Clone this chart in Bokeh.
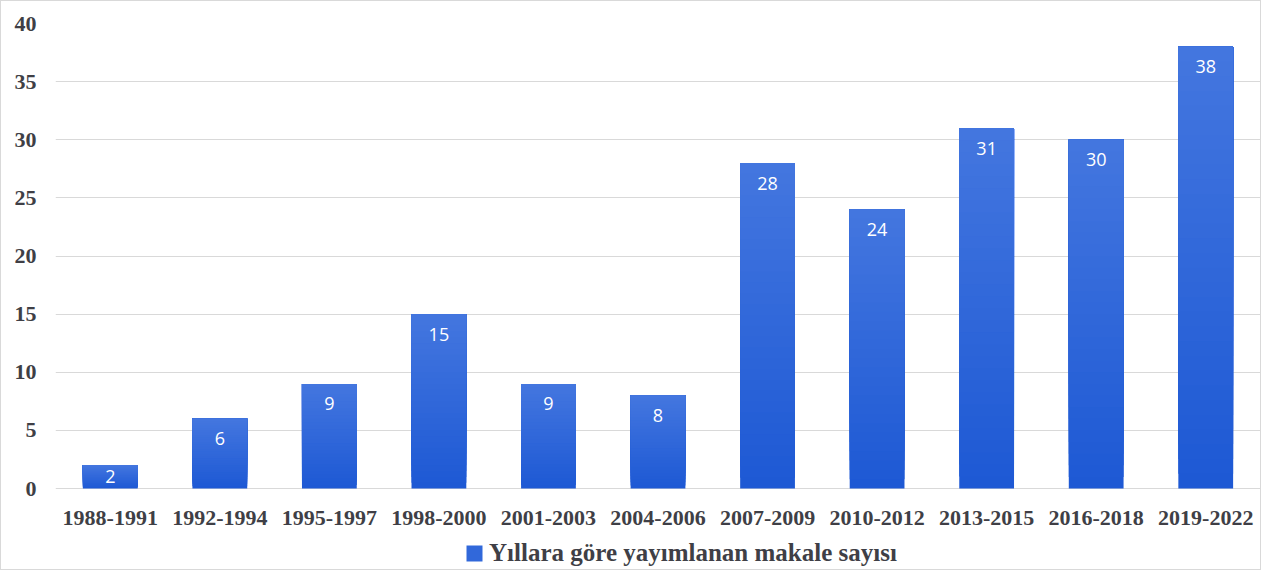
from bokeh.plotting import figure
from bokeh.models import ColumnDataSource, Legend, LegendItem, Range1d, FactorRange, FixedTicker
from bokeh.core.properties import value
from bokeh.embed import file_html
from bokeh.resources import INLINE

periods = ["1988-1991", "1992-1994", "1995-1997", "1998-2000", "2001-2003", "2004-2006",
           "2007-2009", "2010-2012", "2013-2015", "2016-2018", "2019-2022"]
counts = [2, 6, 9, 15, 9, 8, 28, 24, 31, 30, 38]
y_ticks = [0, 5, 10, 15, 20, 25, 30, 35, 40]
series_name = "Yıllara göre yayımlanan makale sayısı"

TEXT = "#3f3f46"
SERIF = "Liberation Serif"

# layout (pixels inside the figure)
W, H = 1261, 570
LEFT_PX, RIGHT_PX = 54, 1259
TOP_PX, ZERO_PX, BOTTOM_PX = 22, 487, 568
px_per_unit = (ZERO_PX - TOP_PX) / max(y_ticks)
y_start = -(BOTTOM_PX - ZERO_PX) / px_per_unit

p = figure(x_range=FactorRange(*periods), y_range=Range1d(y_start, max(y_ticks)),
           width=W, height=H, output_backend="svg", toolbar_location=None,
           min_border_left=LEFT_PX, min_border_right=W - RIGHT_PX, min_border_top=TOP_PX,
           min_border_bottom=H - BOTTOM_PX,
           background_fill_color="white", border_fill_color="white",
           styles={"border": "1px solid #d9d9d9", "box-sizing": "border-box"})
p.outline_line_color = None

# gradient bars: overlapping slices from bottom (dark) to top (light)
bottom_rgb = (0x1d, 0x59, 0xd4)
top_rgb = (0x44, 0x76, 0xdf)
N = 30
rends = []
for k in range(N):
    t = (k + 0.5) / N
    c = tuple(int(round(b + (tp - b) * t)) for b, tp in zip(bottom_rgb, top_rgb))
    col = "#%02x%02x%02x" % c
    src = ColumnDataSource(dict(x=periods, top=counts,
                                bottom=[v * k / N for v in counts]))
    rends.append(p.vbar(x="x", top="top", bottom="bottom", width=0.5, source=src,
                        fill_color=col, line_color=None))

# value labels inside the bar end (kept inside short bars)
label_off = [min(20.0, v * px_per_unit / 2) for v in counts]
lab_src = ColumnDataSource(dict(x=periods, y=counts, t=[str(v) for v in counts],
                                off=label_off))
p.text(x="x", y="y", text="t", source=lab_src, text_align="center", text_baseline="middle",
       y_offset="off", text_color="white", text_font=value("Open Sans"),
       text_font_size="18px")

p.xgrid.grid_line_color = None
p.ygrid.grid_line_color = "#d9d9d9"
p.ygrid.grid_line_width = 1
p.yaxis.ticker = FixedTicker(ticks=y_ticks)

for ax in (p.xaxis[0], p.yaxis[0]):
    ax.axis_line_color = None
    ax.major_tick_line_color = None
    ax.minor_tick_line_color = None
    ax.major_label_text_font = SERIF
    ax.major_label_text_font_style = "bold"
    ax.major_label_text_color = TEXT
    ax.major_label_text_font_size = "22px"
p.yaxis.major_label_standoff = 13
p.xaxis.major_label_standoff = 16
p.xaxis.fixed_location = 0

legend = Legend(items=[LegendItem(label=series_name, renderers=[rends[N // 2]])],
                location=(409, 2), padding=0, margin=0, border_line_color=None,
                background_fill_alpha=0, glyph_width=20, glyph_height=20,
                label_standoff=5,
                label_text_font=SERIF, label_text_font_style="bold",
                label_text_font_size="25px", label_text_color=TEXT)
p.add_layout(legend, "center")

open("out.html", "w").write(file_html(p, INLINE))
